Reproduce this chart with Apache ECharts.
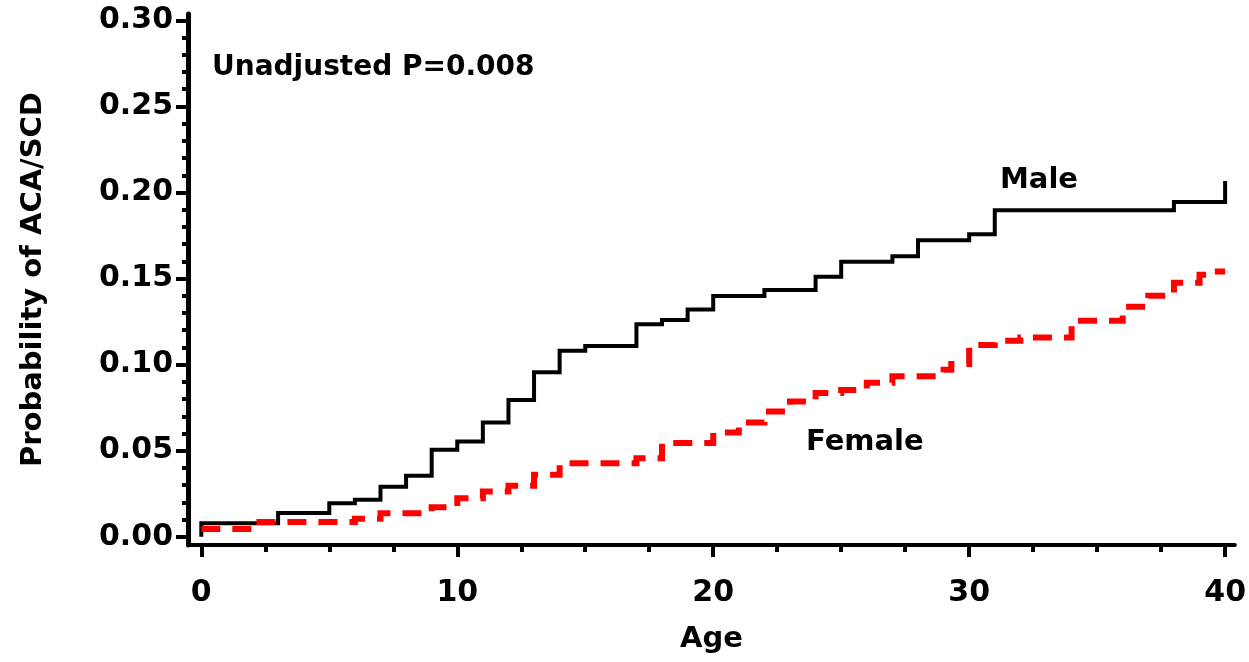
<!DOCTYPE html>
<html>
<head>
<meta charset="utf-8">
<title>Probability of ACA/SCD by age</title>
<script src="https://cdn.jsdelivr.net/npm/echarts@6/dist/echarts.min.js"></script>
<style>
  html, body { margin: 0; padding: 0; background: #ffffff; }
  #chart { width: 1249px; height: 662px; }
</style>
</head>
<body>
<div id="chart"></div>
<script>
// Cumulative probability of ACA/SCD by age (step curves, value holds from each age onward)
const maleAge  = [0, 0, 3, 5, 6, 7, 8, 9, 10, 11, 12, 13, 14, 15, 17, 18, 19, 20, 22, 24, 25, 27, 28, 30, 31, 38, 40];
const maleProb = [0, 0.0078, 0.0138, 0.0195, 0.0215, 0.029, 0.0354, 0.0505, 0.0553, 0.0663, 0.0795, 0.0955, 0.108, 0.1108,
                  0.1235, 0.1259, 0.132, 0.1398, 0.1433, 0.151, 0.1597, 0.163, 0.1723, 0.1758, 0.1897, 0.1945, 0.2067];

const femaleAge  = [0, 2, 6, 7, 9, 10, 11, 12, 13, 14, 17, 18, 20, 21, 22, 23, 24, 25, 26, 27, 29, 29.3, 30, 31, 32, 34, 36, 37, 38, 39, 39.5, 40];
const femaleProb = [0.0045, 0.0085, 0.0105, 0.0137, 0.0172, 0.0224, 0.0263, 0.0296, 0.036, 0.0427, 0.0456, 0.0545, 0.0605, 0.0663,
                    0.0727, 0.0785, 0.0835, 0.0853, 0.0895, 0.0932, 0.097, 0.1003, 0.1114, 0.1138, 0.1157, 0.1255, 0.1336, 0.140,
                    0.1475, 0.1522, 0.1541, 0.1541];

// Axis ticks
const ageTicks       = [0, 10, 20, 30, 40];
const ageMinorTicks  = [2.5, 5, 7.5, 12.5, 15, 17.5, 22.5, 25, 27.5, 32.5, 35, 37.5];
const probTicks      = [0, 0.05, 0.10, 0.15, 0.20, 0.25, 0.30];
const probMinorTicks = [0.01, 0.02, 0.03, 0.04, 0.06, 0.07, 0.08, 0.09, 0.11, 0.12, 0.13, 0.14,
                        0.16, 0.17, 0.18, 0.19, 0.21, 0.22, 0.23, 0.24, 0.26, 0.27, 0.28, 0.29];

const FONT = 'DejaVu Sans';
const boldText = (size) => ({ fontFamily: FONT, fontWeight: 'bold', fontSize: size, color: '#000' });

const X_MIN = -0.52, X_MAX = 40.38;
const Y_MIN = -0.0048, Y_MAX = 0.3037;

const pairs = (xs, ys) => xs.map((x, i) => [x, ys[i]]);

const chart = echarts.init(document.getElementById('chart'));

chart.setOption({
  backgroundColor: '#ffffff',
  animation: false,
  grid: { left: 188, top: 14, width: 1050, height: 531, containLabel: false },
  xAxis: [
    {
      type: 'value', min: X_MIN, max: X_MAX, position: 'bottom',
      axisLine: { show: true, onZero: false, lineStyle: { color: '#000', width: 4 } },
      axisTick: { show: true, length: 12, customValues: ageTicks, lineStyle: { color: '#000', width: 4 } },
      axisLabel: Object.assign({ customValues: ageTicks, margin: 33 }, boldText(30)),
      splitLine: { show: false },
      name: 'Age', nameLocation: 'middle', nameGap: 80,
      nameTextStyle: boldText(29)
    },
    {
      type: 'value', min: X_MIN, max: X_MAX, position: 'bottom',
      axisLine: { show: false, onZero: false },
      axisTick: { show: true, length: 7, customValues: ageMinorTicks, lineStyle: { color: '#000', width: 4 } },
      axisLabel: { show: false },
      splitLine: { show: false }
    }
  ],
  yAxis: [
    {
      type: 'value', min: Y_MIN, max: Y_MAX, position: 'left',
      axisLine: { show: true, onZero: false, lineStyle: { color: '#000', width: 5 } },
      axisTick: { show: true, length: 12, customValues: probTicks, lineStyle: { color: '#000', width: 4 } },
      axisLabel: Object.assign({ customValues: probTicks, margin: 15, formatter: (v) => v.toFixed(2) }, boldText(30)),
      splitLine: { show: false },
      name: 'Probability of ACA/SCD', nameLocation: 'middle', nameGap: 140,
      nameTextStyle: boldText(29)
    },
    {
      type: 'value', min: Y_MIN, max: Y_MAX, position: 'left',
      axisLine: { show: false, onZero: false },
      axisTick: { show: true, length: 6, customValues: probMinorTicks, lineStyle: { color: '#000', width: 4 } },
      axisLabel: { show: false },
      splitLine: { show: false }
    }
  ],
  series: [
    {
      name: 'Male', type: 'line', xAxisIndex: 0, yAxisIndex: 0,
      step: 'end', symbol: 'none', showSymbol: false,
      data: pairs(maleAge, maleProb),
      lineStyle: { color: '#000000', width: 4, join: 'miter' }
    },
    {
      name: 'Female', type: 'line', xAxisIndex: 0, yAxisIndex: 0,
      step: 'end', symbol: 'none', showSymbol: false,
      data: pairs(femaleAge, femaleProb),
      lineStyle: { color: '#ff0000', width: 6, type: [19, 12], cap: 'butt', join: 'miter' }
    }
  ],
  graphic: [
    { type: 'text', left: 212, top: 54, style: { text: 'Unadjusted P=0.008', font: 'bold 28px "DejaVu Sans"', fill: '#000' } },
    { type: 'text', left: 1000, top: 166, style: { text: 'Male', font: 'bold 29px "DejaVu Sans"', fill: '#000' } },
    { type: 'text', left: 806, top: 428, style: { text: 'Female', font: 'bold 29px "DejaVu Sans"', fill: '#000' } }
  ]
});
</script>
</body>
</html>
